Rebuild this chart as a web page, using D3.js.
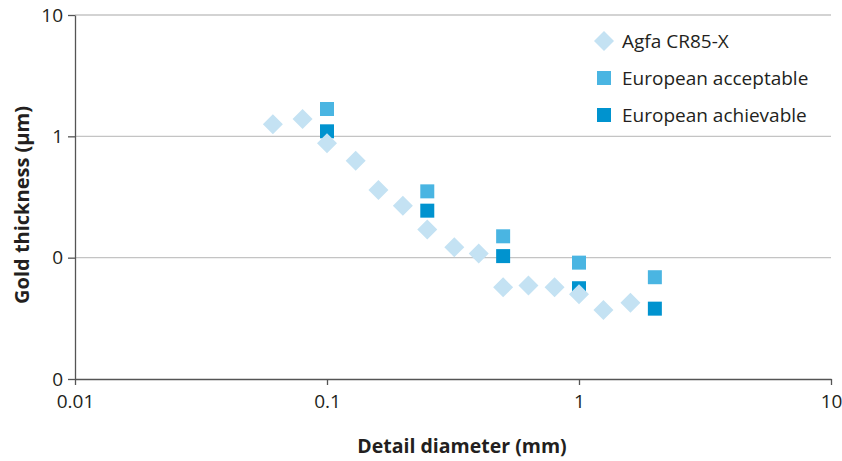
<!DOCTYPE html>
<html>
<head>
<meta charset="utf-8">
<script src="https://cdn.jsdelivr.net/npm/d3@7"></script>
<style>
  html, body { margin: 0; padding: 0; background: #fff; }
  svg { display: block; font-family: "Open Sans", "Noto Sans", sans-serif; }
</style>
</head>
<body>
<svg id="chart" width="842" height="461"></svg>
<script>
// Detail diameter (mm) and gold thickness (µm) for each series
const agfaDiameter = [0.061, 0.08, 0.10, 0.13, 0.16, 0.20, 0.25, 0.32, 0.40, 0.50, 0.63, 0.80, 1.00, 1.25, 1.60];
const agfaThickness = [1.26, 1.39, 0.876, 0.629, 0.361, 0.268, 0.171, 0.122, 0.108, 0.057, 0.059, 0.057, 0.050, 0.037, 0.0425];

const euroDiameter = [0.10, 0.25, 0.50, 1.00, 2.00];
const euroAcceptable = [1.68, 0.352, 0.150, 0.091, 0.069];
const euroAchievable = [1.10, 0.244, 0.103, 0.056, 0.038];

const xTicks = [0.01, 0.1, 1, 10];
const xTickLabels = ["0.01", "0.1", "1", "10"];
const yTicks = [10, 1, 0.1, 0.01];
const yTickLabels = ["10", "1", "0", "0"];

const seriesNames = ["Agfa CR85-X", "European acceptable", "European achievable"];
const seriesColors = ["#c4e2f3", "#4ab5e2", "#0093cf"];

const svg = d3.select("#chart");
const margin = { left: 75, right: 11, top: 15, bottom: 82 };
const W = 842, H = 461;

const x = d3.scaleLog().domain([0.01, 10]).range([margin.left, W - margin.right]);
const y = d3.scaleLog().domain([0.01, 10]).range([H - margin.bottom, margin.top]);

// horizontal gridlines
svg.append("g")
  .selectAll("line")
  .data(yTicks.filter(d => d > 0.01))
  .join("line")
  .attr("x1", x(0.01)).attr("x2", x(10))
  .attr("y1", d => y(d)).attr("y2", d => y(d))
  .attr("stroke", "#c4c4c4").attr("stroke-width", 1.3);

// x axis
const xAxis = d3.axisBottom(x)
  .tickValues(xTicks)
  .tickFormat((d, i) => xTickLabels[i])
  .tickSize(6).tickSizeOuter(0).tickPadding(10);
const gx = svg.append("g").attr("transform", `translate(0,${y(0.01)})`).call(xAxis);
gx.select(".domain").attr("stroke", "#555").attr("stroke-width", 1.3);
gx.selectAll(".tick line").attr("stroke", "#555").attr("stroke-width", 1.3);
gx.selectAll(".tick text").attr("font-size", 19).attr("fill", "#231f20")
  .attr("font-family", "'Open Sans', sans-serif");

// y axis
const yAxis = d3.axisLeft(y)
  .tickValues(yTicks)
  .tickFormat((d, i) => yTickLabels[i])
  .tickSize(7).tickSizeOuter(0).tickPadding(5);
const gy = svg.append("g").attr("transform", `translate(${x(0.01)},0)`).call(yAxis);
gy.select(".domain").attr("stroke", "#555").attr("stroke-width", 1.3);
gy.selectAll(".tick line").attr("stroke", "#555").attr("stroke-width", 1.3);
gy.selectAll(".tick text").attr("font-size", 19).attr("fill", "#231f20")
  .attr("font-family", "'Open Sans', sans-serif");

// axis titles
svg.append("text")
  .attr("x", 462).attr("y", 453)
  .attr("text-anchor", "middle")
  .attr("font-size", 19.5).attr("font-weight", "bold").attr("fill", "#231f20")
  .text("Detail diameter (mm)");

svg.append("text")
  .attr("transform", "translate(29,205) rotate(-90)")
  .attr("text-anchor", "middle")
  .attr("font-size", 20).attr("font-weight", "bold").attr("fill", "#231f20")
  .text("Gold thickness (µm)");

// markers
const diamond = d3.symbol().type(d3.symbolSquare).size(200);
const square = d3.symbol().type(d3.symbolSquare).size(196);

const acc = euroDiameter.map((d, i) => ({ d, t: euroAcceptable[i] }));
svg.append("g").selectAll("path")
  .data(acc).join("path")
  .attr("d", square)
  .attr("transform", p => `translate(${x(p.d)},${y(p.t)})`)
  .attr("fill", seriesColors[1]);

const ach = euroDiameter.map((d, i) => ({ d, t: euroAchievable[i] }));
svg.append("g").selectAll("path")
  .data(ach).join("path")
  .attr("d", square)
  .attr("transform", p => `translate(${x(p.d)},${y(p.t)})`)
  .attr("fill", seriesColors[2]);

// Agfa diamonds sit on top of the reference squares
const agfa = agfaDiameter.map((d, i) => ({ d, t: agfaThickness[i] }));
svg.append("g").selectAll("path")
  .data(agfa).join("path")
  .attr("d", diamond)
  .attr("transform", p => `translate(${x(p.d)},${y(p.t)}) rotate(45)`)
  .attr("fill", seriesColors[0]);

// legend
const legend = svg.append("g");
const legendY = [41, 78, 115];
seriesNames.forEach((name, i) => {
  const g = legend.append("g").attr("transform", `translate(604,${legendY[i]})`);
  if (i === 0) {
    g.append("path").attr("d", diamond).attr("transform", "rotate(45)").attr("fill", seriesColors[0]);
  } else {
    g.append("path").attr("d", square).attr("fill", seriesColors[i]);
  }
  g.append("text").attr("x", 18).attr("y", 7)
    .attr("font-size", 19).attr("fill", "#231f20")
    .text(name);
});
</script>
</body>
</html>
